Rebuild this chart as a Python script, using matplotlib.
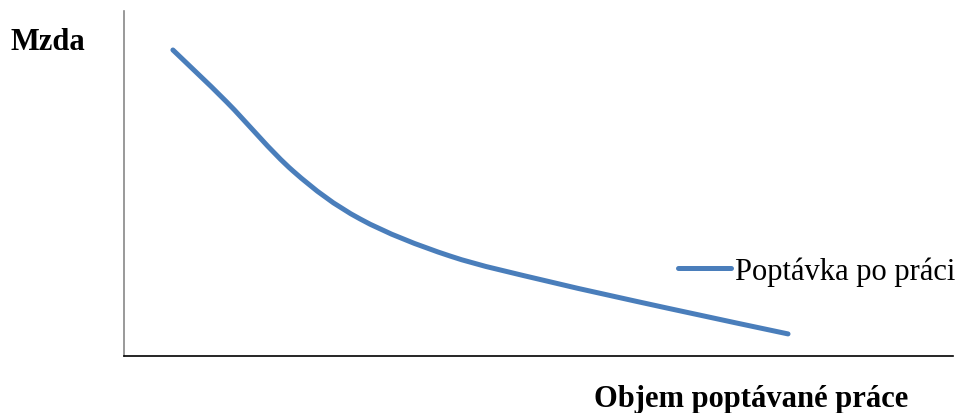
import matplotlib
matplotlib.use("Agg")
import matplotlib.pyplot as plt
import numpy as np
from matplotlib.path import Path
from matplotlib.patches import PathPatch
from matplotlib.lines import Line2D

# demand-for-labour curve (arbitrary units)
objem = [5.9, 12.4, 20.4, 28.5, 39.3, 51.4, 65.5, 80.1]
mzda = [88.7, 73.6, 53.6, 39.7, 29.0, 21.5, 13.9, 6.4]
serie = "Poptávka po práci"
y_label = "Mzda"
x_label = "Objem poptávané práce"

color = "#4a7ebb"
plt.rcParams["font.family"] = ["Liberation Serif", "DejaVu Serif"]


def smooth_path(x, y):
    # Catmull-Rom -> cubic Bezier control points, like Excel's smoothed line
    p = np.column_stack([x, y])
    verts = [p[0]]
    codes = [Path.MOVETO]
    for i in range(len(p) - 1):
        p0 = p[i - 1] if i > 0 else p[i]
        p1, p2 = p[i], p[i + 1]
        p3 = p[i + 2] if i + 2 < len(p) else p[i + 1]
        c1 = p1 + (p2 - p0) / 6
        c2 = p2 - (p3 - p1) / 6
        verts += [c1, c2, p2]
        codes += [Path.CURVE4] * 3
    return Path(verts, codes)


fig = plt.figure(figsize=(9.63, 4.14), dpi=100)
ax = fig.add_axes([124 / 963, 1 - 357 / 414, (953 - 124) / 963, (357 - 12) / 414])

ax.add_patch(PathPatch(smooth_path(objem, mzda), facecolor="none", edgecolor=color,
                       lw=3.6, capstyle="round", joinstyle="round"))
ax.set_xlim(0, 100)
ax.set_ylim(0, 100)
ax.set_xticks([])
ax.set_yticks([])
for s in ["top", "right"]:
    ax.spines[s].set_visible(False)
ax.spines["left"].set_color("#888888")
ax.spines["left"].set_linewidth(1.2)
ax.spines["bottom"].set_color("black")
ax.spines["bottom"].set_linewidth(1.2)

handle = Line2D([], [], color=color, lw=3.6, solid_capstyle="round")
fig.legend([handle], [serie], loc="center left",
           bbox_to_anchor=(678 / 963, 1 - 272 / 414),
           frameon=False, fontsize=22, handlelength=1.75, handletextpad=0.1,
           borderpad=0, borderaxespad=0)

fig.text(10 / 963, 1 - 42 / 414, y_label, ha="left", va="center",
         fontsize=22, fontweight="bold")
fig.text(908 / 963, 1 - 407 / 414, x_label, ha="right", va="baseline",
         fontsize=22, fontweight="bold")

fig.savefig("out.png", dpi=100)
